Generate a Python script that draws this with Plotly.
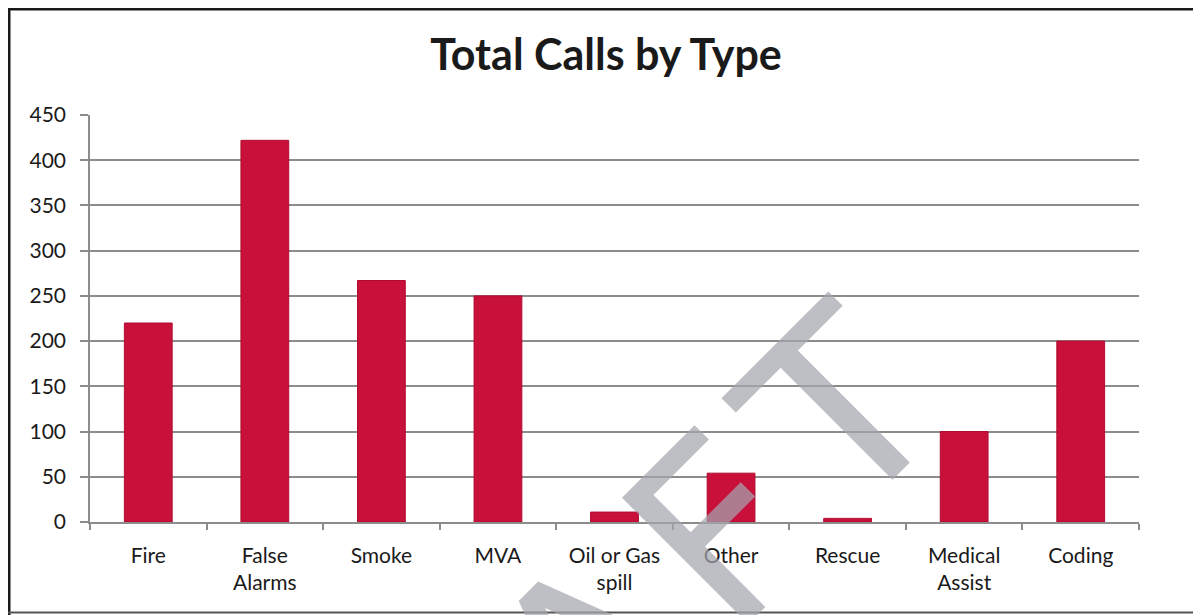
import plotly.graph_objects as go

# data
categories = ["Fire", "False<br>Alarms", "Smoke", "MVA", "Oil or Gas<br>spill",
              "Other", "Rescue", "Medical<br>Assist", "Coding"]
calls = [220, 422, 267, 250, 11, 54, 4, 100, 200]
y_ticks = list(range(0, 451, 50))

# the page puts an 8px body margin around the figure, so size it to fit
W, H = 1193, 607
L, R, T, B = 82, 62, 107, 93
FONT = "Lato"
GRID = "#8c8c8c"
INK = "#1a1a1a"


def px(x):
    # figure pixel -> paper x
    return (x - L) / (W - L - R)


def py(y):
    # figure pixel -> paper y
    return (H - B - y) / (H - T - B)


fig = go.Figure()
fig.add_trace(
    go.Bar(
        x=categories,
        y=calls,
        marker=dict(color="#C8103A", line=dict(color="#B00C30", width=1)),
        hoverinfo="x+y",
    )
)

shapes = [
    # scanned frame: thick black top & left, thin grey bottom
    dict(type="line", xref="paper", yref="paper", x0=px(-5), x1=px(W + 5), y0=py(0), y1=py(0),
         line=dict(color="#1a1a1a", width=5)),
    dict(type="line", xref="paper", yref="paper", x0=px(0), x1=px(0), y0=py(-5), y1=py(H + 5),
         line=dict(color="#1a1a1a", width=5)),
    dict(type="line", xref="paper", yref="paper", x0=px(0), x1=px(W + 5), y0=py(604.5), y1=py(604.5),
         line=dict(color="#555555", width=2)),
    dict(type="line", xref="paper", yref="paper", x0=px(1190), x1=px(1190), y0=py(2), y1=py(604),
         line=dict(color="#dddddd", width=1)),
]

# DRAFT watermark running diagonally off the bottom edge
fig.add_annotation(
    text="D\u200aR\u200aA\u200aF\u200aT",
    xref="paper", yref="paper",
    x=px(563), y=py(673),
    xanchor="center", yanchor="middle",
    textangle=-45,
    showarrow=False,
    font=dict(family="DejaVu Sans", size=245, color="rgba(165,165,175,0.72)"),
)

fig.update_layout(
    width=W,
    height=H,
    margin=dict(l=L, r=R, t=T, b=B),
    paper_bgcolor="white",
    plot_bgcolor="white",
    bargap=0.59,
    showlegend=False,
    shapes=shapes,
    font=dict(family=FONT, size=21, color=INK),
    title=dict(
        text="<b>Total Calls by Type</b>",
        x=px(598), xref="paper", xanchor="center",
        y=1 - 47 / H, yref="container", yanchor="middle",
        font=dict(family=FONT, size=43, color=INK),
    ),
)

fig.update_xaxes(
    showline=True, linecolor=GRID, linewidth=1.5,
    ticks="outside", tickson="boundaries", ticklen=6, tickcolor=GRID, tickwidth=1.5,
    showgrid=False,
    ticklabelstandoff=14,
    tickfont=dict(family=FONT, size=21, color=INK),
)
fig.update_yaxes(
    range=[0, 450],
    tickvals=y_ticks,
    showline=True, linecolor=GRID, linewidth=1.5,
    ticks="outside", ticklen=8, tickcolor=GRID, tickwidth=1.5,
    showgrid=True, gridcolor=GRID, gridwidth=1.5,
    zeroline=False,
    ticklabelstandoff=10,
    tickfont=dict(family=FONT, size=21, color=INK),
)

fig.write_html("out.html")
